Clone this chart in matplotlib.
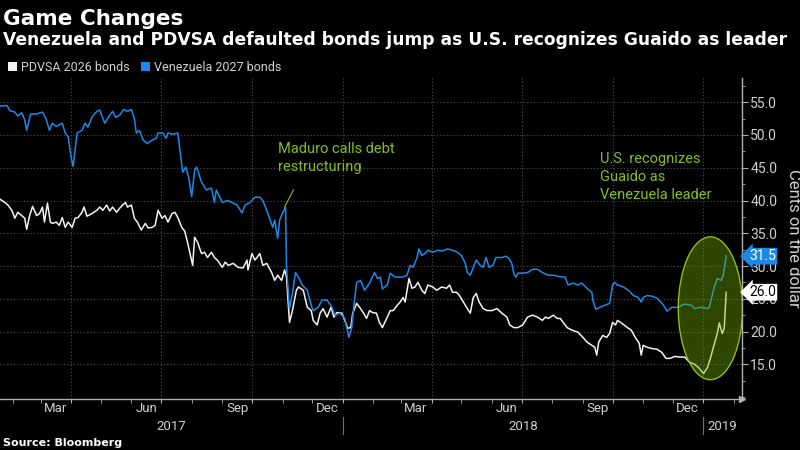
import numpy as np
import pandas as pd
import matplotlib
matplotlib.use("Agg")
import matplotlib.pyplot as plt
import matplotlib.dates as mdates
import matplotlib.transforms as mtransforms
from matplotlib.patches import Ellipse, Patch

# dates are stored as days after 2017-01-01
BASE_DATE = pd.Timestamp("2017-01-01")

venezuela_days = [
    18, 25, 28, 33, 36, 40, 43, 45, 49, 55, 61, 65, 68, 71, 75, 81, 84, 87, 90, 92,
    94, 96, 101, 104, 107, 111, 116, 119, 124, 129, 132, 135, 139, 143, 147, 151, 154, 156, 159, 163,
    167, 172, 176, 178, 183, 186, 188, 193, 198, 201, 203, 206, 209, 212, 215, 217, 222, 227, 232, 235,
    237, 243, 248, 253, 258, 263, 266, 271, 276, 281, 284, 289, 294, 296, 299, 301, 304, 307, 308, 311,
    314, 317, 320, 324, 329, 333, 335, 340, 344, 349, 354, 357, 362, 367, 371, 374, 376, 379, 383, 387,
    392, 397, 400, 403, 405, 410, 413, 418, 425, 430, 433, 436, 440, 442, 445, 448, 451, 456, 461, 466,
    471, 476, 481, 485, 489, 491, 494, 497, 500, 504, 507, 510, 513, 517, 520, 526, 530, 533, 536, 538,
    540, 542, 547, 552, 557, 562, 567, 573, 578, 584, 590, 593, 598, 603, 607, 612, 617, 618, 621, 625,
    630, 635, 638, 640, 643, 649, 654, 659, 664, 667, 669, 673, 678, 683, 688, 691, 693, 698, 704, 711,
    718, 721, 727, 734, 736, 740, 744, 748, 750, 753,
]
venezuela_2027 = [
    54.4, 54.5, 53.7, 53.5, 52.9, 53.4, 52.3, 50.7, 53.2, 53.2, 53.5, 52.3, 50.7, 51.8, 51.3, 51.8, 50.3, 49.7, 46.6, 45.2,
    47.7, 50.3, 50.7, 51.8, 51.2, 52.7, 53.6, 53.8, 51.8, 53.0, 53.6, 52.7, 53.0, 53.9, 53.6, 53.9, 52.5, 50.3, 50.7, 49.2,
    48.7, 49.2, 49.5, 50.3, 50.3, 49.5, 50.3, 50.1, 50.3, 46.6, 44.3, 45.1, 43.5, 40.6, 44.6, 45.1, 42.8, 41.6, 41.9, 39.7,
    41.6, 39.7, 40.0, 39.7, 39.3, 38.1, 39.3, 39.7, 40.5, 40.5, 40.0, 38.1, 35.9, 37.0, 34.2, 37.0, 38.1, 39.0, 29.8, 23.5,
    25.8, 29.0, 28.3, 27.1, 26.3, 24.0, 23.2, 23.7, 24.8, 24.8, 23.7, 22.5, 22.8, 22.0, 19.1, 20.6, 23.7, 27.5, 27.8, 26.3,
    27.4, 29.0, 28.1, 28.3, 26.5, 27.1, 28.9, 28.3, 28.3, 28.6, 30.1, 29.8, 31.2, 32.6, 31.6, 31.9, 32.4, 32.1, 32.4, 32.3,
    32.6, 32.4, 32.1, 31.6, 30.4, 29.0, 28.6, 29.8, 30.9, 30.1, 29.8, 31.3, 29.8, 30.1, 31.3, 31.3, 31.5, 31.2, 30.4, 28.9,
    28.3, 28.9, 28.9, 29.0, 29.5, 29.5, 29.0, 28.6, 28.6, 28.4, 28.3, 27.1, 27.4, 27.1, 27.4, 26.6, 26.0, 24.8, 23.4, 23.7,
    24.0, 24.3, 27.1, 27.5, 27.1, 26.8, 26.3, 25.5, 25.2, 24.5, 25.2, 25.5, 25.4, 25.1, 24.3, 23.7, 23.1, 23.7, 23.7, 24.2,
    24.0, 23.5, 23.7, 23.5, 23.7, 26.3, 28.1, 27.8, 28.6, 31.5,
]

pdvsa_days = [
    18, 23, 26, 30, 33, 36, 40, 43, 45, 48, 51, 55, 58, 61, 63, 66, 69, 71, 75, 78,
    81, 84, 87, 91, 94, 97, 101, 103, 106, 111, 116, 119, 122, 126, 129, 132, 136, 139, 142, 145,
    147, 151, 154, 157, 161, 165, 168, 172, 175, 178, 182, 185, 188, 192, 195, 198, 202, 205, 208, 211,
    213, 215, 218, 222, 225, 228, 232, 235, 238, 243, 246, 249, 254, 259, 264, 268, 269, 273, 276, 281,
    284, 288, 293, 296, 299, 303, 306, 308, 311, 314, 318, 320, 325, 329, 333, 335, 339, 342, 345, 349,
    353, 356, 359, 364, 367, 370, 373, 375, 379, 382, 386, 389, 392, 395, 399, 402, 405, 410, 413, 416,
    420, 423, 426, 428, 430, 432, 435, 438, 441, 445, 448, 451, 456, 460, 465, 470, 473, 476, 480, 483,
    487, 491, 494, 497, 500, 503, 507, 511, 516, 521, 526, 531, 534, 538, 542, 547, 552, 557, 562, 567,
    570, 573, 578, 582, 585, 592, 597, 603, 608, 612, 617, 620, 622, 624, 628, 632, 635, 638, 641, 643,
    647, 653, 657, 661, 665, 667, 669, 673, 678, 683, 688, 692, 696, 701, 706, 711, 716, 721, 725, 730,
    734, 737, 740, 744, 746, 749, 751, 753,
]
pdvsa_2026 = [
    40.2, 39.7, 39.3, 38.5, 37.3, 38.2, 37.7, 37.3, 35.6, 37.7, 39.1, 37.7, 38.0, 39.0, 36.7, 39.6, 36.7, 36.5, 36.7, 36.2,
    37.4, 35.9, 36.7, 35.9, 37.3, 37.4, 38.2, 39.0, 37.6, 38.0, 38.5, 39.0, 38.5, 39.3, 38.4, 39.0, 38.2, 38.8, 39.3, 39.7,
    39.0, 39.3, 37.3, 36.7, 35.5, 36.5, 35.8, 35.9, 36.2, 38.5, 37.3, 37.7, 36.7, 38.0, 38.2, 37.4, 35.9, 35.3, 33.5, 31.5,
    30.1, 34.4, 33.6, 31.9, 32.1, 31.3, 32.1, 31.3, 30.9, 29.8, 30.6, 30.1, 30.4, 29.8, 29.7, 30.9, 29.4, 31.9, 30.9, 31.9,
    30.1, 30.4, 29.0, 27.8, 28.6, 27.8, 29.4, 28.3, 21.4, 23.2, 26.3, 26.8, 26.3, 23.7, 23.2, 21.7, 21.0, 22.8, 23.5, 22.2,
    23.7, 22.2, 22.9, 22.8, 21.7, 20.5, 20.6, 22.8, 24.3, 23.7, 22.8, 22.0, 23.2, 22.9, 22.8, 21.4, 20.6, 22.2, 23.2, 23.2,
    24.0, 24.5, 25.2, 24.5, 26.3, 28.1, 26.6, 26.8, 27.5, 26.3, 25.8, 27.1, 26.8, 26.3, 26.8, 26.6, 27.1, 26.0, 26.0, 25.5,
    24.5, 23.5, 22.8, 25.2, 25.8, 24.5, 23.5, 23.2, 23.2, 23.5, 22.8, 22.2, 21.0, 20.6, 20.6, 21.0, 22.2, 22.5, 22.2, 21.7,
    22.2, 22.0, 22.5, 22.0, 22.0, 20.6, 20.2, 19.9, 19.1, 18.4, 17.9, 17.6, 16.4, 18.4, 19.4, 19.1, 19.7, 21.4, 21.0, 21.7,
    21.3, 20.6, 20.2, 19.1, 18.2, 16.4, 17.9, 17.6, 17.4, 17.3, 16.8, 15.9, 15.9, 16.2, 16.1, 16.1, 15.3, 15.0, 14.5, 13.6,
    14.5, 15.9, 17.6, 19.7, 21.3, 19.7, 20.5, 26.0,
]

series_labels = ["PDVSA 2026 bonds", "Venezuela 2027 bonds"]
month_labels = ["Mar", "Jun", "Sep", "Dec"]
year_labels = ["2017", "2018", "2019"]
y_ticks = [15, 20, 25, 30, 35, 40, 45, 50, 55]

BG = "black"
WHITE = "#f2f2f2"
BLUE = "#1f88e6"
GREEN = "#86bc25"
AXIS_GRAY = "#b0b0b0"
TEXT_GRAY = "#d0d0d0"
GRID = "#505050"
FONT = "Roboto"

ven_dates = BASE_DATE + pd.to_timedelta(venezuela_days, unit="D")
pdv_dates = BASE_DATE + pd.to_timedelta(pdvsa_days, unit="D")

x_start = pd.Timestamp("2017-01-19")
x_end = pd.Timestamp("2019-02-09")

fig = plt.figure(figsize=(8, 4.5), dpi=100, facecolor=BG)
ax = fig.add_axes([0.0, 0.1133, 0.9275, 0.7134], facecolor=BG)

ax.plot(pdv_dates, pdvsa_2026, color=WHITE, lw=1.1, zorder=3)
ax.plot(ven_dates, venezuela_2027, color=BLUE, lw=1.1, zorder=3)

ax.set_xlim(x_start, x_end)
ax.set_ylim(9.7, 58.7)

# spines
for side in ["left", "top"]:
    ax.spines[side].set_visible(False)
for side in ["right", "bottom"]:
    ax.spines[side].set_color(AXIS_GRAY)
    ax.spines[side].set_linewidth(1.0)
ax.plot([1], [0], marker=">", color=AXIS_GRAY, markersize=4,
        transform=ax.transAxes, clip_on=False)

# y axis on the right
ax.yaxis.tick_right()
ax.yaxis.set_label_position("right")
ax.set_yticks(y_ticks)
ax.set_yticklabels([f"{v:.1f}" for v in y_ticks], fontfamily=FONT, fontsize=10, color=TEXT_GRAY)
ax.yaxis.set_minor_locator(matplotlib.ticker.MultipleLocator(2.5))
ax.tick_params(axis="y", which="major", length=4, color=AXIS_GRAY, pad=2)
ax.tick_params(axis="y", which="minor", length=2, color=AXIS_GRAY)
ax.set_ylabel("Cents on the dollar", rotation=270, labelpad=17,
              fontfamily=FONT, fontsize=12, color=TEXT_GRAY)
ax.grid(axis="y", color=GRID, linestyle=(0, (1, 2)), lw=0.8)

# x axis: quarter gridlines, monthly ticks, labels written mid-month
ax.xaxis.set_major_locator(mdates.MonthLocator(bymonth=[1, 4, 7, 10]))
ax.xaxis.set_minor_locator(mdates.MonthLocator())
ax.xaxis.set_major_formatter(matplotlib.ticker.NullFormatter())
ax.tick_params(axis="x", which="both", length=3, color=AXIS_GRAY)
ax.grid(axis="x", which="major", color=GRID, linestyle=(0, (1, 2)), lw=0.8)
ax.set_axisbelow(True)

xtrans = mtransforms.blended_transform_factory(ax.transData, ax.transAxes)
month_num = {"Mar": 3, "Jun": 6, "Sep": 9, "Dec": 12}
for year in [2017, 2018]:
    for m in month_labels:
        d = pd.Timestamp(year=year, month=month_num[m], day=16)
        ax.text(d, -0.03, m, transform=xtrans, ha="center", va="center",
                fontfamily=FONT, fontsize=9.5, color=TEXT_GRAY)

year_bounds = [x_start, pd.Timestamp("2018-01-01"), pd.Timestamp("2019-01-01"), x_end]
for i, label in enumerate(year_labels):
    lo, hi = year_bounds[i], year_bounds[i + 1]
    ax.text(lo + (hi - lo) / 2, -0.085, label, transform=xtrans, ha="center", va="center",
            fontfamily=FONT, fontsize=9.5, color=TEXT_GRAY)
for b in year_bounds[1:3]:
    ax.plot([b, b], [-0.055, -0.108], color="#707070", lw=0.8,
            transform=xtrans, clip_on=False)

# highlight ellipse around the recent jump
ell = Ellipse((pd.Timestamp("2019-01-08"), 23.55), width=65, height=21.8,
              facecolor=(0.45, 0.69, 0.0, 0.4), edgecolor="#8fbf10", lw=1.0, zorder=4)
ax.add_patch(ell)

# annotations
ax.text(pd.Timestamp("2017-10-27"), 46.5, "Maduro calls debt\nrestructuring",
        ha="left", va="center", fontfamily=FONT, fontsize=10.5, color=GREEN, linespacing=1.35)
ax.plot([pd.Timestamp("2017-11-12"), pd.Timestamp("2017-11-03")], [41.6, 39.0],
        color=GREEN, lw=0.8, zorder=4)
ax.text(pd.Timestamp("2018-09-18"), 43.6, "U.S. recognizes\nGuaido as\nVenezuela leader",
        ha="left", va="center", fontfamily=FONT, fontsize=10.5, color=GREEN, linespacing=1.35)

# last value tags on the axis
for val, fc, tc in [(venezuela_2027[-1], BLUE, "white"), (pdvsa_2026[-1], "white", "black")]:
    ax.annotate(f"{val:.1f}", xy=(1, val), xycoords=("axes fraction", "data"),
                xytext=(5, 0), textcoords="offset points", ha="left", va="center",
                fontfamily=FONT, fontsize=10, color=tc, annotation_clip=False, zorder=6,
                bbox=dict(boxstyle="larrow,pad=0.1", fc=fc, ec="none"))

# titles, legend and source
fig.text(0.004, 0.944, "Game Changes", fontsize=15.5, fontweight="bold",
         color="white", va="baseline", ha="left")
fig.text(0.004, 0.9, "Venezuela and PDVSA defaulted bonds jump as U.S. recognizes Guaido as leader",
         fontsize=12.3, fontweight="bold", color="white", va="baseline", ha="left")
handles = [Patch(facecolor=WHITE, edgecolor="none"), Patch(facecolor=BLUE, edgecolor="none")]
leg = fig.legend(handles, series_labels, loc="center left", bbox_to_anchor=(0.0, 0.851),
                 ncol=2, frameon=False, handlelength=0.75, handleheight=0.75,
                 handletextpad=0.3, columnspacing=0.9, borderaxespad=0.2,
                 prop={"family": FONT, "size": 9})
for t in leg.get_texts():
    t.set_color(TEXT_GRAY)
fig.text(0.004, 0.01, "Source: Bloomberg", fontsize=8, fontweight="bold",
         color="white", va="baseline", ha="left")

fig.savefig("out.png", dpi=100, facecolor=BG)
